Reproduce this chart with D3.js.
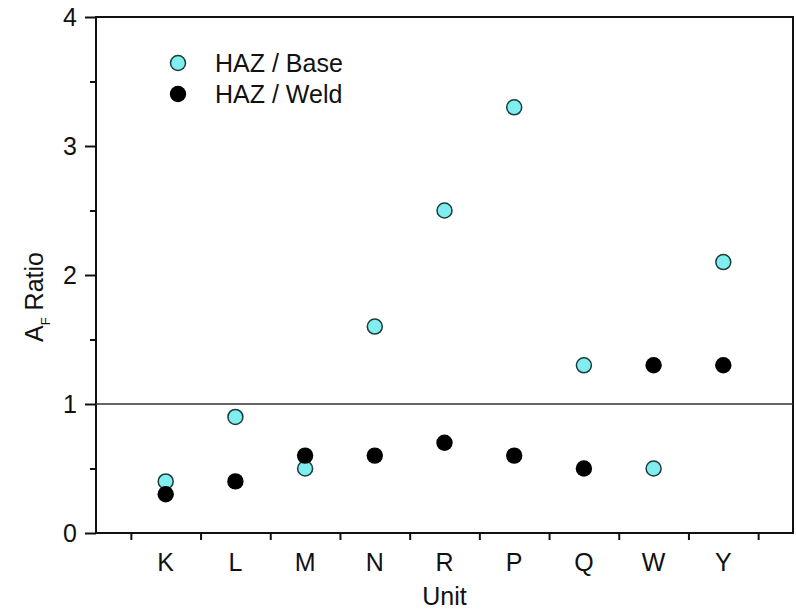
<!DOCTYPE html>
<html>
<head>
<meta charset="utf-8">
<script src="https://cdn.jsdelivr.net/npm/d3@7"></script>
<style>
  body { margin: 0; background: #fff; }
  text { font-family: "Liberation Sans", Arial, sans-serif; fill: #111; }
</style>
</head>
<body>
<div id="chart"></div>
<script>
// data
var units = ["K", "L", "M", "N", "R", "P", "Q", "W", "Y"];
var hazBase = [0.4, 0.9, 0.5, 1.6, 2.5, 3.3, 1.3, 0.5, 2.1];
var hazWeld = [0.3, 0.4, 0.6, 0.6, 0.7, 0.6, 0.5, 1.3, 1.3];
var yTicks = [0, 1, 2, 3, 4];
var seriesNames = ["HAZ / Base", "HAZ / Weld"];

var W = 796, H = 611;
var margin = {top: 17, right: 3, bottom: 78, left: 96},
    width = W - margin.left - margin.right,
    height = H - margin.top - margin.bottom;

var svg = d3.select("#chart")
  .append("svg")
    .attr("width", W)
    .attr("height", H)
  .append("g")
    .attr("transform", "translate(" + margin.left + "," + margin.top + ")");

// x is positional: categories sit at 1..9, ticks between them
var x = d3.scaleLinear().domain([0, units.length + 1]).range([0, width]);
var y = d3.scaleLinear().domain([0, 4]).range([height, 0]);

var colBase = "#80eeee", strokeBase = "#1b3d3d";

// frame
svg.append("rect")
  .attr("width", width).attr("height", height)
  .attr("fill", "none").attr("stroke", "#111").attr("stroke-width", 2);

// reference line at ratio 1
svg.append("line")
  .attr("x1", 0).attr("x2", width)
  .attr("y1", y(1)).attr("y2", y(1))
  .attr("stroke", "#333").attr("stroke-width", 1.5);

// x axis: tick marks between categories, labels at category centres
var xAxis = svg.append("g")
  .attr("transform", "translate(0," + height + ")")
  .call(d3.axisBottom(x)
    .tickValues(d3.range(units.length + 1).map(function(i) { return i + 0.5; }))
    .tickSize(7).tickFormat(""));
xAxis.select(".domain").remove();
xAxis.selectAll("line").attr("stroke", "#111").attr("stroke-width", 2);

svg.append("g").selectAll("text")
  .data(units)
  .join("text")
    .attr("x", function(d, i) { return x(i + 1); })
    .attr("y", height + 38)
    .attr("text-anchor", "middle")
    .style("font-size", "25px")
    .text(function(d) { return d; });

// y axis: major with labels, minor halfway
var yAxis = svg.append("g")
  .call(d3.axisLeft(y).tickValues(yTicks).tickSize(11).tickPadding(8).tickFormat(d3.format("d")));
yAxis.select(".domain").remove();
yAxis.selectAll("line").attr("stroke", "#111").attr("stroke-width", 2);
yAxis.selectAll("text").style("font-size", "25px").attr("fill", "#111");

var yMinor = svg.append("g")
  .call(d3.axisLeft(y).tickValues([0.5, 1.5, 2.5, 3.5]).tickSize(6).tickFormat(""));
yMinor.select(".domain").remove();
yMinor.selectAll("line").attr("stroke", "#111").attr("stroke-width", 2);

// points: base first, weld on top
svg.append("g").selectAll("circle")
  .data(hazBase)
  .join("circle")
    .attr("cx", function(d, i) { return x(i + 1); })
    .attr("cy", function(d) { return y(d); })
    .attr("r", 7.5)
    .attr("fill", colBase).attr("stroke", strokeBase).attr("stroke-width", 1.5);

svg.append("g").selectAll("circle")
  .data(hazWeld)
  .join("circle")
    .attr("cx", function(d, i) { return x(i + 1); })
    .attr("cy", function(d) { return y(d); })
    .attr("r", 8.2)
    .attr("fill", "#000");

// legend
var legend = svg.append("g").attr("transform", "translate(82,46)");
legend.append("circle").attr("cx", 0).attr("cy", 0).attr("r", 7.5)
  .attr("fill", colBase).attr("stroke", strokeBase).attr("stroke-width", 1.5);
legend.append("circle").attr("cx", 0).attr("cy", 31).attr("r", 8.2).attr("fill", "#000");
legend.selectAll("text.lab")
  .data(seriesNames)
  .join("text")
    .attr("class", "lab")
    .attr("x", 37)
    .attr("y", function(d, i) { return i * 31 + 9; })
    .style("font-size", "25px")
    .text(function(d) { return d; });

// axis titles
svg.append("text")
  .attr("x", width / 2)
  .attr("y", height + 72)
  .attr("text-anchor", "middle")
  .style("font-size", "25px")
  .text("Unit");

var yt = svg.append("text")
  .attr("transform", "translate(-53," + (y(2) + 22) + ") rotate(-90)")
  .attr("text-anchor", "middle")
  .style("font-size", "25px");
yt.append("tspan").text("A");
yt.append("tspan").attr("dy", 7).style("font-size", "13px").text("F");
yt.append("tspan").attr("dy", -7).text(" Ratio");
</script>
</body>
</html>
